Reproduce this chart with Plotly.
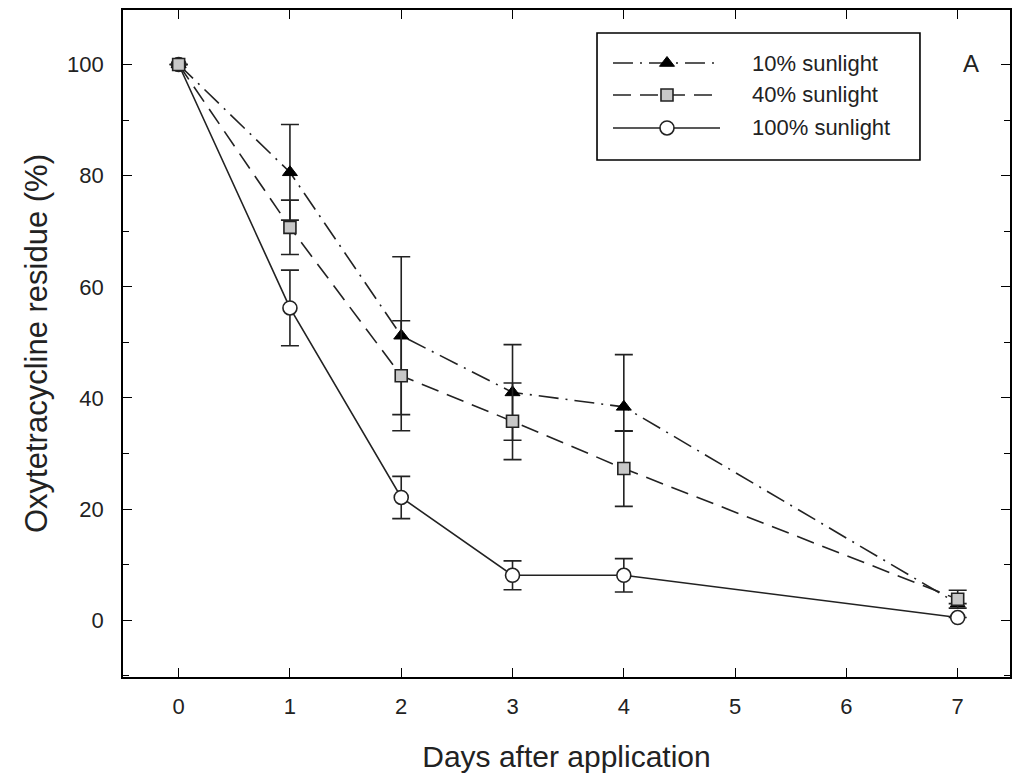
import plotly.graph_objects as go

days = [0, 1, 2, 3, 4, 7]
sun10 = [100, 80.6, 51.2, 41.0, 38.4, 3.0]
sun10_err_up = [None, 8.6, 14.2, 8.6, 9.4, None]
sun10_err_dn = [None, 8.6, 14.2, 8.6, 4.4, None]
sun40 = [100, 70.7, 44.0, 35.8, 27.3, 3.8]
sun40_err = [None, 4.9, 9.9, 6.9, 6.8, 1.6]
sun100 = [100, 56.2, 22.1, 8.1, 8.1, 0.5]
sun100_err = [None, 6.8, 3.8, 2.6, 3.0, None]

series_names = ["10% sunlight", "40% sunlight", "100% sunlight"]
x_ticks = [0, 1, 2, 3, 4, 5, 6, 7]
y_ticks = [0, 20, 40, 60, 80, 100]

FONT = "Liberation Sans, Arial, sans-serif"
LC = "#222222"
TXT = "#222222"

styles = {
    "10% sunlight": dict(
        line=dict(color=LC, width=1.6, dash="20px,7px,2px,7px"),
        marker=dict(symbol="triangle-up", size=13, color="black", line=dict(color="black", width=1)),
    ),
    "40% sunlight": dict(
        line=dict(color=LC, width=1.6, dash="18px,9px"),
        marker=dict(symbol="square", size=12, color="#c8c8c8", line=dict(color=LC, width=1.6)),
    ),
    "100% sunlight": dict(
        line=dict(color=LC, width=1.6, dash="solid"),
        marker=dict(symbol="circle", size=14, color="white", line=dict(color=LC, width=1.6)),
    ),
}

fig = go.Figure()

fig.add_trace(go.Scatter(
    x=days, y=sun100, name=series_names[2], mode="lines+markers", showlegend=False,
    error_y=dict(type="data", array=sun100_err, color=LC, thickness=1.6, width=9),
    **styles[series_names[2]],
))
fig.add_trace(go.Scatter(
    x=days, y=sun10, name=series_names[0], mode="lines+markers", showlegend=False,
    error_y=dict(type="data", array=sun10_err_up, arrayminus=sun10_err_dn, symmetric=False,
                 color=LC, thickness=1.6, width=9),
    **styles[series_names[0]],
))
fig.add_trace(go.Scatter(
    x=days, y=sun40, name=series_names[1], mode="lines+markers", showlegend=False,
    error_y=dict(type="data", array=sun40_err, color=LC, thickness=1.6, width=9),
    **styles[series_names[1]],
))

# Manual legend (overlay axes x2/y2 spanning the plot area, range 0..1)
leg_left, leg_right, leg_top, leg_bottom = 0.5344, 0.8985, 0.9655, 0.7751
leg_rows = [0.9205, 0.8726, 0.8231]
line_x0, line_x1, mark_x, text_x = 0.5524, 0.6731, 0.6133, 0.7069

fig.add_shape(type="rect", xref="paper", yref="paper",
              x0=leg_left, x1=leg_right, y0=leg_bottom, y1=leg_top,
              line=dict(color="black", width=1.6), fillcolor="white", layer="below")

for name, ry in zip(series_names, leg_rows):
    st = styles[name]
    fig.add_trace(go.Scatter(
        x=[line_x0, line_x1], y=[ry, ry], mode="lines", xaxis="x2", yaxis="y2",
        line=st["line"], showlegend=False, hoverinfo="skip",
    ))
    fig.add_trace(go.Scatter(
        x=[mark_x], y=[ry], mode="markers", xaxis="x2", yaxis="y2",
        marker=st["marker"], showlegend=False, hoverinfo="skip",
    ))
    fig.add_annotation(x=text_x, y=ry, xref="paper", yref="paper", text=name,
                       xanchor="left", yanchor="middle", showarrow=False,
                       font=dict(family=FONT, size=22, color=TXT))

axis_common = dict(
    showline=True, linecolor="black", linewidth=1.6, mirror="ticks",
    ticks="inside", tickcolor="black", tickwidth=1.3,
    showgrid=False, zeroline=False, automargin=False,
    tickfont=dict(family=FONT, size=22, color=TXT),
)

fig.update_xaxes(
    range=[-0.5, 7.47], tickvals=x_ticks, ticklen=9, ticklabelstandoff=9,
    title=dict(text="Days after application", font=dict(family=FONT, size=30, color=TXT), standoff=28),
    **axis_common,
)
fig.update_yaxes(
    range=[-10.2, 109.8], tickvals=y_ticks, ticklen=9, ticklabelstandoff=13,
    minor=dict(dtick=10, ticks="inside", ticklen=6, tickcolor="black", tickwidth=1.3, showgrid=False),
    title=dict(text="Oxytetracycline residue (%)", font=dict(family=FONT, size=31, color=TXT), standoff=10),
    **axis_common,
)

fig.update_layout(
    xaxis2=dict(overlaying="x", range=[0, 1], visible=False, anchor="y2"),
    yaxis2=dict(overlaying="y", range=[0, 1], visible=False, anchor="x2"),
)

fig.add_annotation(x=0.967, y=0.943, xref="paper", yref="paper", text="A", showarrow=False,
                   font=dict(family=FONT, size=24, color=TXT))

fig.update_layout(
    width=1019, height=774,
    margin=dict(l=123, r=9, t=10, b=97),
    paper_bgcolor="white", plot_bgcolor="white",
    showlegend=False,
    font=dict(family=FONT),
)

fig.write_html("out.html", config={"displayModeBar": False},
               post_script="document.body.style.margin='0';")
